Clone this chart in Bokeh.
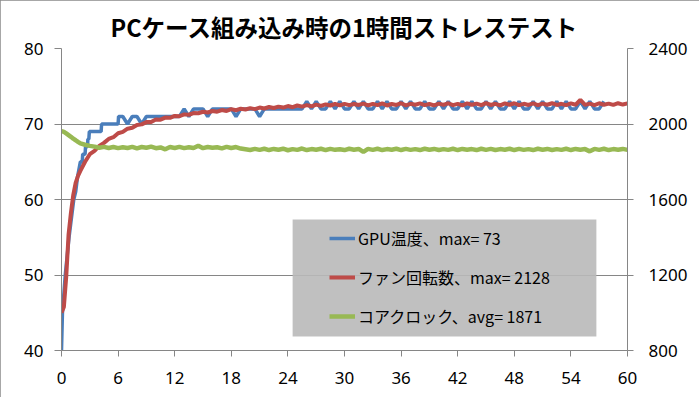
from bokeh.plotting import figure
from bokeh.models import (Range1d, LinearAxis, FixedTicker, ColumnDataSource, Legend,
                          LegendItem, BoxAnnotation)
from bokeh.embed import file_html
from bokeh.resources import INLINE

# ---------------- data ----------------
title_text = "PCケース組み込み時の1時間ストレステスト"
x_ticks = [0, 6, 12, 18, 24, 30, 36, 42, 48, 54, 60]
temp_ticks = [40, 50, 60, 70, 80]
rpm_ticks = [800, 1200, 1600, 2000, 2400]

label_gpu = "GPU温度、max= 73"
label_fan = "ファン回転数、max= 2128"
label_clk = "コアクロック、avg= 1871"

# sample times (minutes) for fan / clock
t_early = [0, 0.25, 0.5, 0.75, 1, 1.25, 1.5, 1.75]
t_main = [2 + 0.5 * i for i in range(117)]
times = t_early + t_main

fan_rpm = [1000, 1030, 1190, 1415, 1530, 1625, 1688, 1725,
           1752, 1800, 1840, 1858, 1884, 1900, 1921, 1930, 1951, 1958,
           1975, 1980, 1995, 1998, 2010, 2011, 2024, 2023, 2034, 2033,
           2043, 2041, 2051, 2049, 2058, 2057, 2065, 2061, 2069, 2065,
           2074, 2069, 2079, 2073, 2081, 2077, 2084, 2079, 2087, 2082,
           2090, 2085, 2092, 2087, 2095, 2089, 2098, 2092, 2100, 2094,
           2103, 2096, 2104, 2098, 2106, 2099, 2107, 2100, 2106, 2101,
           2108, 2099, 2107, 2100, 2109, 2098, 2106, 2101, 2110, 2099,
           2107, 2102, 2109, 2100, 2106, 2099, 2108, 2101, 2110, 2100,
           2107, 2099, 2109, 2102, 2108, 2100, 2111, 2101, 2107, 2099,
           2109, 2102, 2110, 2100, 2107, 2101, 2109, 2100, 2108, 2102,
           2110, 2101, 2107, 2100, 2109, 2102, 2128, 2101, 2108, 2100,
           2110, 2102, 2108, 2101, 2110, 2103, 2109]

core_clock = [1962, 1958, 1950, 1941, 1932, 1922, 1914, 1905,
              1897, 1890, 1884, 1880, 1874, 1879, 1873, 1878, 1872, 1877,
              1873, 1879, 1871, 1878, 1874, 1880, 1872, 1876, 1866, 1878,
              1873, 1879, 1872, 1877, 1873, 1885, 1872, 1878, 1874, 1877,
              1871, 1879, 1873, 1878, 1870, 1866, 1862, 1868, 1863, 1869,
              1862, 1868, 1864, 1869, 1861, 1867, 1863, 1870, 1862, 1867,
              1864, 1869, 1862, 1868, 1863, 1866, 1862, 1869, 1864, 1868,
              1852, 1868, 1863, 1869, 1862, 1867, 1864, 1869, 1862, 1868,
              1863, 1867, 1862, 1869, 1864, 1868, 1862, 1867, 1863, 1869,
              1862, 1868, 1864, 1867, 1862, 1869, 1863, 1868, 1862, 1867,
              1864, 1869, 1862, 1868, 1863, 1867, 1862, 1869, 1864, 1868,
              1862, 1867, 1863, 1869, 1862, 1868, 1864, 1867, 1855, 1868,
              1863, 1869, 1862, 1867, 1864, 1868, 1863]

# GPU temperature (integer readings) with its own sample times
gpu_t = ([0, 0.1, 0.4, 0.8, 1.0, 1.3, 1.5, 1.7, 2.0, 2.2, 2.25, 2.5, 2.55,
          2.75, 2.8, 2.9, 2.95, 4.2, 4.25, 6.0, 6.05]
         + [6.5 + 0.5 * i for i in range(108)])
gpu_temp = [40, 45, 50, 55, 57, 60, 61, 63, 65, 65, 66, 66, 67,
            67, 68, 68, 69, 69, 70, 70, 71,
            71, 70, 71, 71, 70, 71, 71, 71, 71, 71, 71, 71, 71,
            72, 71, 72, 72, 72, 71, 72, 72, 72, 72, 72, 71, 72, 72, 72,
            72, 71, 72, 72, 72, 72, 72, 72, 72, 72, 72,
            73, 72, 73, 72, 72, 73, 72, 73, 72, 72, 73, 72, 73, 72, 72,
            73, 72, 73, 72, 72, 73, 72, 73, 72, 72, 73, 72, 72, 73, 72,
            73, 72, 72, 73, 72, 73, 72, 72, 73, 72, 73, 72, 72, 73, 72,
            73, 72, 72, 73, 72, 73, 72, 72, 73, 72, 73, 72, 72, 73, 72,
            73, 72, 72, 73]

# ---------------- figure ----------------
GRID = "#868686"
p = figure(width=699, height=397, output_backend="svg", toolbar_location=None,
           x_range=Range1d(0, 60), y_range=Range1d(40, 80),
           min_border_left=61, min_border_right=72, min_border_top=48,
           min_border_bottom=47)
p.styles = {"outline": "1px solid #8a8a8a", "outline-offset": "-1px"}
p.extra_y_ranges = {"rpm": Range1d(800, 2400)}
p.outline_line_color = None
p.background_fill_color = "white"

p.title.text = title_text
p.title.align = "center"
p.title.text_font = "Noto Sans CJK JP"
p.title.text_font_style = "bold"
p.title.text_font_size = "23.5px"
p.title.text_color = "black"
p.title.standoff = 10

TICK_FONT = "Noto Sans"
for ax in (p.xaxis[0], p.yaxis[0]):
    ax.axis_line_color = GRID
    ax.major_tick_line_color = GRID
    ax.minor_tick_line_color = None
    ax.major_tick_in = 0
    ax.major_label_text_font = TICK_FONT
    ax.major_label_text_font_size = "17px"
    ax.major_label_text_color = "black"

p.xaxis[0].ticker = FixedTicker(ticks=x_ticks)
p.xaxis[0].major_tick_out = 6
p.xaxis[0].major_label_standoff = 15
p.yaxis[0].ticker = FixedTicker(ticks=temp_ticks)
p.yaxis[0].major_tick_out = 7
p.yaxis[0].major_label_standoff = 11

ax_r = LinearAxis(y_range_name="rpm", ticker=FixedTicker(ticks=rpm_ticks))
ax_r.axis_line_color = GRID
ax_r.major_tick_line_color = GRID
ax_r.minor_tick_line_color = None
ax_r.major_tick_in = 0
ax_r.major_tick_out = 6
ax_r.major_label_standoff = 15
ax_r.major_label_text_font = TICK_FONT
ax_r.major_label_text_font_size = "17px"
ax_r.major_label_text_color = "black"
p.add_layout(ax_r, "right")

p.xgrid.visible = False
p.ygrid.ticker = FixedTicker(ticks=temp_ticks)
p.ygrid.grid_line_color = GRID

src_gpu = ColumnDataSource(dict(t=gpu_t, v=gpu_temp))
src_run = ColumnDataSource(dict(t=times, fan=fan_rpm, clk=core_clock))

r_gpu = p.line("t", "v", source=src_gpu, line_color="#4a7ebb", line_width=3.5)
r_fan = p.line("t", "fan", source=src_run, y_range_name="rpm",
               line_color="#be4b48", line_width=4)
r_clk = p.line("t", "clk", source=src_run, y_range_name="rpm",
               line_color="#98b954", line_width=4.5)

box = BoxAnnotation(left=24.5, right=56.7, bottom=41.85, top=57.35,
                    fill_color="#b9b9b9", fill_alpha=0.9, line_alpha=0)
p.add_layout(box)

legend = Legend(items=[LegendItem(label=label_gpu, renderers=[r_gpu]),
                       LegendItem(label=label_fan, renderers=[r_fan]),
                       LegendItem(label=label_clk, renderers=[r_clk])],
                location=(256, 10), orientation="vertical",
                background_fill_alpha=0, border_line_alpha=0,
                glyph_width=26, glyph_height=20, label_height=20,
                label_standoff=3, spacing=15, padding=12, margin=0,
                label_text_font="Noto Sans CJK JP", label_text_font_size="16px",
                label_text_color="black")
p.add_layout(legend)

open("out.html", "w").write(file_html(p, INLINE))
